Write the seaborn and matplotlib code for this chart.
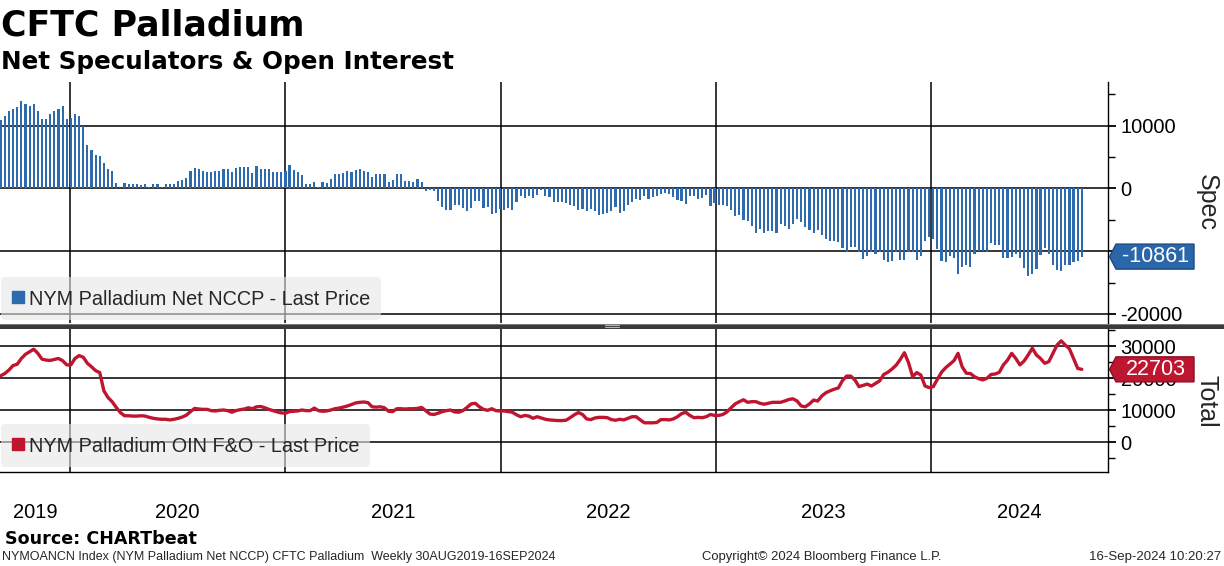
import numpy as np
import pandas as pd
import matplotlib
matplotlib.use("Agg")
import matplotlib.pyplot as plt
import matplotlib.dates as mdates
import matplotlib.transforms as mtrans
from matplotlib.patches import Polygon, Rectangle
from matplotlib.lines import Line2D
import seaborn as sns

# ---------------- data ----------------
week_start = "2019-09-06"
week_end = "2024-09-13"

# NYM Palladium Net NCCP (thousand contracts), weekly
net_spec_k = [
    10.97, 11.6, 12.3, 12.7, 12.9, 13.9, 13.5, 13.2, 13.5, 12.4,
    11.1, 11.1, 11.9, 12.3, 12.6, 13.1, 11.0, 11.3, 11.8, 11.5,
    10.0, 6.9, 6.1, 5.3, 5.2, 4.0, 3.1, 2.7, 0.8, 0.1,
    0.8, 0.65, 0.65, 0.65, 0.5, 0.65, 0.3, 0.65, 0.65, 0.3,
    0.65, 0.65, 0.65, 1.15,
    1.4, 1.6, 2.8, 3.2, 3.06, 2.7, 2.6, 2.6, 2.7, 2.7,
    3.1, 3.1, 2.6, 3.2, 3.4, 3.4, 3.4, 2.4, 3.5, 3.1,
    3.1, 3.1, 2.6, 2.6, 2.6, 2.7, 3.7, 2.9, 2.6, 2.1,
    0.65, 0.65, 1.0, 0.3, 1.1, 0.8, 1.45, 2.26, 2.26, 2.4,
    2.7, 2.6, 3.0, 3.1, 2.7, 2.6, 1.9, 2.26, 2.3, 2.26,
    1.0, 1.3, 2.26, 2.26,
    1.13, 1.13, 0.97, 1.45, 0.97, -0.43, -0.22, -0.43, -2.04, -2.9,
    -3.39, -3.39, -2.58, -2.58, -3.06, -3.55, -3.06, -2.04, -1.94, -3.06,
    -2.9, -4.03, -3.87, -3.23, -3.39, -3.06, -3.39, -2.1, -1.13, -1.45,
    -1.13, -1.45, -0.97, -0.32, -1.13, -1.29, -2.1, -2.1, -2.1, -2.26,
    -2.58, -2.74, -3.39, -3.23, -3.55, -3.23, -3.55, -4.19, -4.03, -3.87,
    -3.55, -2.9, -3.87, -3.55, -2.58, -2.1, -1.61, -1.77, -1.13, -1.61,
    -1.29, -1.13, -0.81, -0.65, -0.81, -1.29, -1.77, -1.94, -2.42, -1.13,
    -1.13, -1.61, -1.45, -0.97, -2.74, -2.26, -2.58, -2.58, -2.74, -3.39,
    -4.35, -4.19, -5.0, -5.16, -5.97, -7.1, -6.45, -7.1, -6.77, -6.77,
    -7.1, -5.65, -5.97, -6.45, -5.65, -4.84, -5.32, -6.13, -6.61, -7.1,
    -6.61, -7.42, -8.06, -8.39, -8.39, -8.55, -9.52, -10.16,
    -9.35, -9.35, -10.16, -11.24, -10.8, -10.16, -10.43, -10.16, -11.45, -11.67,
    -11.5, -10.16, -11.45, -11.34, -10.16, -10.16, -11.34, -10.7, -8.39, -7.69,
    -8.12, -9.62, -11.56, -11.67, -10.7, -11.08, -13.6, -12.47, -12.2, -12.47,
    -10.38, -9.95, -9.95, -10.16, -8.66, -8.98, -9.09, -11.08, -11.08, -10.91,
    -10.43, -11.08, -12.69, -13.92, -13.6, -12.8, -10.54, -9.46, -10.38, -12.2,
    -12.96, -13.12, -12.2, -12.15, -11.72, -11.5, -10.861,
]

# NYM Palladium OIN F&O (thousand contracts), weekly
open_int_k = [
    20.7, 21.4, 22.5, 23.9, 24.3, 26.1, 27.4, 28.2, 29.0, 27.7,
    25.9, 25.6, 25.5, 25.8, 26.1, 25.4, 24.1, 24.1, 26.1, 27.0,
    26.5, 24.6, 23.5, 22.3, 21.7, 16.0, 13.9, 12.6, 10.8, 9.2,
    8.2, 8.2, 8.1, 8.1, 8.2, 8.1, 7.7, 7.4, 7.2, 7.1,
    7.1, 6.9, 7.1, 7.4, 7.8, 8.4, 9.5, 10.5, 10.3, 10.2,
    10.2, 9.8, 9.7, 9.9, 10.0, 9.8, 9.3, 9.8, 10.1, 10.3,
    10.7, 10.4, 11.0, 11.1, 10.7, 10.2, 9.8, 9.4, 9.1, 9.0,
    9.5, 9.6, 9.7, 10.0, 9.8, 9.8, 10.6, 9.8, 9.6, 9.7,
    10.0, 10.4, 10.6, 10.9, 11.25, 11.7, 12.2, 12.4, 12.5, 12.3,
    11.0, 10.9, 11.0, 10.7, 9.6, 9.5, 10.4, 10.4, 10.3, 10.4,
    10.4, 10.5, 10.8, 9.8, 8.75, 8.6, 9.0, 9.5, 9.8, 10.0,
    9.4, 9.3, 9.8, 10.8, 11.9, 12.1, 11.0, 10.2, 9.9, 10.4,
    9.8, 9.7, 9.7, 9.5, 9.3, 8.5, 7.9, 8.3, 8.1,
    7.4, 7.9, 7.5, 7.1, 6.9, 6.8, 6.7, 6.7, 6.8, 7.6,
    8.5, 9.2, 8.6, 7.2, 7.0, 7.5, 7.7, 7.7, 7.6, 7.0,
    6.8, 7.1, 6.9, 7.4, 7.9, 7.9, 6.9, 6.0, 6.0, 6.0,
    6.1, 7.0, 7.0, 6.9, 7.2, 7.9, 8.85, 9.3, 8.3, 7.6,
    7.7, 7.6, 7.9, 8.6, 8.3, 8.3, 8.6, 9.4, 10.7, 11.9,
    12.6, 13.2, 12.4, 12.6, 12.6, 12.1, 11.8, 12.1, 12.4, 12.4,
    12.4, 12.8, 13.3, 13.5, 12.8, 11.25, 11.0, 11.9, 13.1, 12.8,
    14.4, 15.4, 16.0, 16.5, 16.9, 19.2, 20.6, 20.6, 19.4, 17.3,
    17.7, 18.1, 17.5, 18.3, 19.1, 21.1, 21.8, 22.8, 24.0, 25.8,
    27.9, 24.8, 20.4, 21.7, 20.9, 17.5, 17.0, 17.3, 19.6, 21.8,
    23.2, 24.3, 25.4, 27.7, 23.5, 21.5, 21.4, 20.4, 19.8, 19.4,
    19.9, 21.1, 21.25, 21.8, 24.1, 25.6, 27.7, 26.1, 24.1, 25.3,
    27.2, 29.3, 27.2, 26.1, 24.6, 25.1, 27.7, 30.3, 31.6, 30.3,
    29.1, 26.1, 23.0, 22.703,
]

year_labels = ["2019", "2020", "2021", "2022", "2023", "2024"]
spec_ticks = [-20000, -10000, 0, 10000]
spec_tick_labels = ["-20000", "", "0", "10000"]   # -10000 sits under the last-value tag
spec_minor = [-15000, -5000, 5000, 15000]
oi_ticks = [0, 10000, 20000, 30000]
oi_tick_labels = ["0", "10000", "20000", "30000"]
oi_minor = [-5000, 5000, 15000, 25000, 35000]

title = "CFTC Palladium"
subtitle = "Net Speculators & Open Interest"
legend_spec = "NYM Palladium Net NCCP - Last Price"
legend_oi = "NYM Palladium OIN F&O - Last Price"
footer_left = "NYMOANCN Index (NYM Palladium Net NCCP) CFTC Palladium  Weekly 30AUG2019-16SEP2024"
footer_mid = "Copyright\u00a9 2024 Bloomberg Finance L.P."
footer_right = "16-Sep-2024 10:20:27"

# ---------------- style ----------------
BLUE = "#2D6AAE"
BLUE_TAG = "#2A66AA"
RED = "#C0152F"
RED_TAG = "#BC1630"

sns.set_theme(style="white")
plt.rcParams["font.family"] = ["Liberation Sans", "DejaVu Sans"]
plt.rcParams["axes.unicode_minus"] = False

dates = pd.date_range(week_start, week_end, freq="7D")
assert len(dates) == len(net_spec_k) == len(open_int_k), (len(dates), len(net_spec_k), len(open_int_k))
xnum = mdates.date2num(dates)
spec = np.array(net_spec_k) * 1000.0
oi = np.array(open_int_k) * 1000.0

W, H = 1224, 566
fig = plt.figure(figsize=(W / 100, H / 100), dpi=100)
fig.patch.set_facecolor("white")


def px_rect(left, top, right, bottom):
    return [left / W, 1 - bottom / H, (right - left) / W, (bottom - top) / H]


ax1 = fig.add_axes(px_rect(0, 82, 1108, 323))
ax2 = fig.add_axes(px_rect(0, 328, 1108, 472))

sns.barplot(x=xnum, y=spec, native_scale=True, width=0.52, color=BLUE,
            saturation=1, errorbar=None, orient="x", ax=ax1, linewidth=0,
            antialiased=False, zorder=3)
sns.lineplot(x=xnum, y=oi, ax=ax2, color=RED, linewidth=2.4, zorder=3)

xlim = (mdates.date2num(pd.Timestamp("2019-09-04 19:00")),
        mdates.date2num(pd.Timestamp("2024-10-27 10:00")))
year_starts = mdates.date2num(pd.to_datetime([f"{y}-01-01" for y in range(2020, 2025)]))
quarters = [q for q in mdates.date2num(pd.date_range("2019-10-01", "2024-10-01", freq="QS"))
            if q not in set(year_starts)]

for ax in (ax1, ax2):
    ax.set_xlim(*xlim)
    ax.set_xlabel("")
    ax.set_ylabel("")
    ax.set_facecolor("white")
    ax.set_axisbelow(True)
    for s in ("left", "top"):
        ax.spines[s].set_visible(False)
    ax.spines["right"].set_color("black")
    ax.spines["right"].set_linewidth(1.0)
    ax.yaxis.tick_right()
    ax.set_xticks(year_starts)
    ax.set_xticklabels([""] * len(year_starts))
    ax.grid(True, axis="both", which="major", color="black", linewidth=1.1)
    ax.tick_params(axis="y", which="major", direction="out", length=6, width=1.3,
                   color="black", pad=3, labelsize=14.5, labelcolor="black")
    ax.tick_params(axis="y", which="minor", direction="out", length=5, width=1,
                   color="black")

ax1.spines["bottom"].set_visible(False)
ax1.set_ylim(-21440, 16960)
ax1.set_yticks(spec_ticks)
ax1.set_yticklabels(spec_tick_labels)
ax1.set_yticks(spec_minor, minor=True)
ax1.tick_params(axis="x", which="both", length=0, labelbottom=False)

ax2.spines["bottom"].set_visible(True)
ax2.spines["bottom"].set_color("black")
ax2.spines["bottom"].set_linewidth(1.0)
ax2.set_ylim(-9375, 35625)
ax2.set_yticks(oi_ticks)
ax2.set_yticklabels(oi_tick_labels)
ax2.set_yticks(oi_minor, minor=True)
ax2.set_xticks(quarters, minor=True)
ax2.tick_params(axis="x", which="major", direction="out", length=36.5, width=1,
                color="#8c8c8c", labelbottom=False)
ax2.tick_params(axis="x", which="minor", direction="out", length=3.6, width=1,
                color="black")

# year labels centred in the visible part of each year
bounds = [xlim[0]] + list(year_starts) + [xlim[1]]
trans2 = mtrans.blended_transform_factory(ax2.transData, ax2.transAxes)
for i, lab in enumerate(year_labels):
    xc = 0.5 * (bounds[i] + bounds[i + 1])
    ax2.text(xc, (472 - 512) / 144, lab, transform=trans2, ha="center", va="center",
             fontsize=14.5, color="black", clip_on=False)

# legends
def add_legend(ax, color, label, top_frac):
    h = Line2D([], [], marker="s", color=color, linestyle="none", markersize=9.3)
    leg = ax.legend([h], [label], loc="upper left", bbox_to_anchor=(0.001, top_frac),
                    borderaxespad=0, frameon=True, fancybox=True, framealpha=0.6,
                    facecolor="#E6E6E6", edgecolor="none", fontsize=14.3,
                    handlelength=0.6, handleheight=1.25, handletextpad=0.25,
                    borderpad=0.55)
    leg.set_zorder(6)
    return leg

add_legend(ax1, BLUE, legend_spec, (323 - 277) / 241)
add_legend(ax2, RED, legend_oi, (472 - 424) / 144)

# panel separator
fig.add_artist(Rectangle((0, 1 - 328.5 / H), 1, 5 / H, transform=fig.transFigure,
                         facecolor="#3a3a3a", edgecolor="none", zorder=8))
fig.add_artist(Rectangle((0, 1 - 324.5 / H), 1, 1 / H, transform=fig.transFigure,
                         facecolor="#7a7a7a", edgecolor="none", zorder=8))
for yy in (325.3, 327.0):
    fig.add_artist(Line2D([605 / W, 619 / W], [1 - yy / H, 1 - yy / H],
                          transform=fig.transFigure, color="#b4b4b4", lw=0.8, zorder=9))

# last value tags
inv = fig.transFigure.inverted()

def add_tag(ax, value, color, edge):
    x0, y0 = ax.transData.transform((ax.get_xlim()[1], value))
    h = 12.5
    pts = [(x0 + 1.5, y0), (x0 + 8, y0 + h), (x0 + 86, y0 + h),
           (x0 + 86, y0 - h), (x0 + 8, y0 - h)]
    fig.add_artist(Polygon(inv.transform(pts), closed=True, transform=fig.transFigure,
                           facecolor=color, edgecolor=edge, lw=1.0, zorder=10))
    cx, cy = inv.transform((x0 + 47.5, y0))
    fig.text(cx, cy, f"{int(round(value))}", color="white", ha="center", va="center",
             fontsize=15.5, zorder=11)

add_tag(ax1, spec[-1], BLUE_TAG, "#1c4a80")
add_tag(ax2, oi[-1], RED_TAG, "#8a0f22")

# axis titles on the right
fig.text(1207 / W, 1 - 203 / H, "Spec", rotation=270, ha="center", va="center", fontsize=18)
fig.text(1207 / W, 1 - 401 / H, "Total", rotation=270, ha="center", va="center", fontsize=18)

# titles
fig.text(1 / W, 1 - 8 / H, title, fontsize=25, fontweight="bold", family="DejaVu Sans",
         ha="left", va="top", color="black")
fig.text(1 / W, 1 - 50 / H, subtitle, fontsize=17.7, fontweight="bold", family="DejaVu Sans",
         ha="left", va="top", color="black")

# footer
fig.text(5 / W, 1 - 530 / H, "Source: CHARTbeat", fontsize=12.6, fontweight="bold",
         family="DejaVu Sans", ha="left", va="top", color="black")
fig.text(2 / W, 1 - 557 / H, footer_left, fontsize=9.0, ha="left", va="center")
fig.text(702 / W, 1 - 557 / H, footer_mid, fontsize=9.4, ha="left", va="center")
fig.text(1221 / W, 1 - 557 / H, footer_right, fontsize=9.5, ha="right", va="center")

fig.savefig("out.png", dpi=100, facecolor="white")
